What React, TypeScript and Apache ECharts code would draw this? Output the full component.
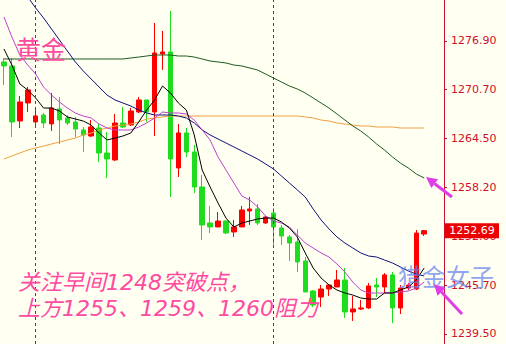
import React, { useEffect, useRef } from "react";
import * as echarts from "echarts";

// 56 category slots: 54 candles + 2 empty slots on the right
const categories: string[] = [
  "1","2","3","4","5","6","7","8","9","10","11","12","13","14","15","16","17","18","19","20",
  "21","22","23","24","25","26","27","28","29","30","31","32","33","34","35","36","37","38","39","40",
  "41","42","43","44","45","46","47","48","49","50","51","52","53","54","55","56",
];

// [open, close, low, high]
const candles: number[][] = [
  [1274.22, 1273.71, 1271.28, 1274.73],
  [1273.71, 1266.56, 1264.65, 1274.73],
  [1266.69, 1269.11, 1265.79, 1269.88],
  [1268.99, 1270.65, 1267.84, 1271.03],
  [1266.56, 1267.33, 1266.18, 1268.09],
  [1267.45, 1266.43, 1265.79, 1267.71],
  [1266.31, 1268.35, 1265.41, 1270.26],
  [1268.22, 1266.82, 1263.75, 1269.75],
  [1267.07, 1266.43, 1266.18, 1267.45],
  [1266.56, 1265.67, 1264.65, 1267.20],
  [1265.54, 1264.90, 1262.73, 1265.92],
  [1264.77, 1265.92, 1264.65, 1266.82],
  [1265.79, 1262.60, 1261.45, 1266.43],
  [1262.60, 1261.84, 1259.41, 1265.28],
  [1261.71, 1266.43, 1261.58, 1267.58],
  [1266.43, 1265.92, 1265.79, 1268.47],
  [1266.18, 1267.96, 1266.05, 1268.35],
  [1267.84, 1269.37, 1267.71, 1269.75],
  [1269.37, 1267.84, 1266.56, 1269.37],
  [1267.84, 1275.37, 1264.77, 1279.20],
  [1275.24, 1275.50, 1273.20, 1278.18],
  [1275.50, 1261.84, 1256.99, 1280.73],
  [1260.69, 1265.16, 1259.54, 1266.31],
  [1265.16, 1262.73, 1262.09, 1265.79],
  [1262.73, 1258.26, 1257.50, 1263.62],
  [1258.26, 1253.41, 1251.50, 1259.79],
  [1253.67, 1253.16, 1252.39, 1255.84],
  [1253.16, 1253.92, 1253.16, 1255.07],
  [1253.92, 1252.39, 1252.26, 1254.05],
  [1252.52, 1253.16, 1251.88, 1254.05],
  [1253.16, 1255.33, 1253.16, 1255.84],
  [1255.20, 1255.46, 1253.41, 1256.99],
  [1255.46, 1253.67, 1253.41, 1256.09],
  [1253.67, 1254.43, 1253.54, 1254.56],
  [1254.94, 1253.16, 1250.86, 1255.58],
  [1253.03, 1252.01, 1250.86, 1253.41],
  [1251.88, 1251.11, 1248.82, 1252.14],
  [1251.24, 1248.69, 1247.41, 1252.90],
  [1248.82, 1244.86, 1244.86, 1249.33],
  [1244.99, 1243.20, 1242.94, 1245.11],
  [1244.22, 1245.24, 1242.94, 1245.75],
  [1245.24, 1245.75, 1244.35, 1245.75],
  [1245.50, 1246.39, 1245.50, 1247.67],
  [1246.39, 1242.31, 1241.54, 1247.92],
  [1242.31, 1242.69, 1241.16, 1244.35],
  [1242.69, 1242.82, 1242.56, 1243.84],
  [1242.82, 1245.63, 1242.69, 1246.01],
  [1245.75, 1245.50, 1244.22, 1246.65],
  [1245.50, 1247.03, 1244.73, 1247.28],
  [1247.03, 1242.82, 1240.90, 1247.41],
  [1242.82, 1245.37, 1242.05, 1245.75],
  [1245.37, 1245.75, 1245.11, 1246.01],
  [1245.24, 1252.39, 1245.11, 1252.77],
  [1252.26, 1252.69, 1252.01, 1252.77],
];

// moving averages
const maBlack: number[] = [
  1275.88, 1273.83, 1271.41, 1270.64, 1269.62, 1268.34, 1268.34, 1267.96, 1267.20, 1266.94,
  1266.68, 1266.17, 1265.15, 1264.26, 1264.51, 1264.77, 1265.15, 1266.56, 1268.09, 1269.37,
  1271.15, 1270.26, 1268.98, 1268.09, 1264.90, 1260.43, 1258.26, 1256.22, 1254.30, 1253.15,
  1253.66, 1253.92, 1254.18, 1254.30, 1254.30, 1253.79, 1253.03, 1251.88, 1249.84, 1247.92,
  1246.64, 1245.75, 1245.11, 1244.73, 1244.47, 1244.09, 1243.96, 1243.96, 1244.73, 1244.73,
  1245.11, 1245.49, 1246.39, 1247.92,
];
const maMagenta: number[] = [
  1279.96, 1277.41, 1275.11, 1273.83, 1272.68, 1271.02, 1270.00, 1269.11, 1268.34, 1267.71,
  1267.32, 1267.07, 1266.30, 1265.79, 1265.54, 1265.54, 1265.54, 1265.92, 1266.43, 1267.07,
  1267.83, 1267.71, 1267.71, 1267.58, 1266.81, 1265.54, 1264.26, 1262.09, 1260.43, 1258.77,
  1257.11, 1256.60, 1255.71, 1254.56, 1253.92, 1253.66, 1253.15, 1252.13, 1251.11, 1250.47,
  1249.84, 1249.32, 1248.43, 1247.41, 1246.13, 1245.11, 1244.73, 1244.73, 1244.73, 1244.73,
  1244.86, 1244.98, 1245.37, 1246.13,
];
const maNavy: number[] = [
  1286.47, 1285.07, 1283.79, 1282.51, 1281.11, 1279.83, 1278.43, 1277.02, 1275.62, 1274.22,
  1273.07, 1272.05, 1271.02, 1270.00, 1269.37, 1268.98, 1268.60, 1268.09, 1267.71, 1267.45,
  1267.45, 1267.45, 1267.32, 1267.07, 1266.43, 1265.54, 1264.90, 1264.39, 1263.88, 1263.37,
  1262.86, 1262.34, 1261.83, 1261.20, 1260.56, 1259.66, 1258.77, 1257.88, 1256.98, 1255.45,
  1254.05, 1252.90, 1251.88, 1251.11, 1250.47, 1249.84, 1249.45, 1249.32, 1248.94, 1248.56,
  1248.05, 1247.54, 1247.15, 1246.90,
];
const maGreen: number[] = [
  1274.60, 1274.60, 1274.60, 1274.60, 1274.60, 1274.60, 1274.60, 1274.60, 1274.60, 1274.60,
  1274.60, 1274.60, 1274.60, 1274.60, 1274.60, 1274.60, 1274.73, 1274.85, 1274.98, 1275.11,
  1275.11, 1275.11, 1274.98, 1274.98, 1274.85, 1274.60, 1274.34, 1274.22, 1274.09, 1273.83,
  1273.71, 1273.45, 1273.19, 1272.68, 1272.17, 1271.66, 1271.15, 1270.77, 1270.26, 1269.62,
  1268.98, 1268.34, 1267.58, 1266.81, 1266.05, 1265.41, 1264.64, 1263.75, 1262.98, 1262.09,
  1261.32, 1260.69, 1259.92, 1259.41,
];
const maOrange: number[] = [
  1261.83, 1262.22, 1262.60, 1262.98, 1263.24, 1263.49, 1263.75, 1264.00, 1264.26, 1264.51,
  1264.90, 1265.15, 1265.54, 1265.79, 1266.05, 1266.17, 1266.30, 1266.56, 1266.94, 1267.07,
  1267.20, 1267.32, 1267.32, 1267.32, 1267.32, 1267.32, 1267.32, 1267.32, 1267.32, 1267.32,
  1267.32, 1267.32, 1267.32, 1267.32, 1267.32, 1267.32, 1267.32, 1267.32, 1267.20, 1267.07,
  1266.81, 1266.68, 1266.43, 1266.30, 1266.17, 1266.05, 1266.05, 1265.92, 1265.92, 1265.92,
  1265.79, 1265.79, 1265.79, 1265.79,
];

const yTicks: number[] = [1239.5, 1245.7, 1252.0, 1258.2, 1264.5, 1270.7, 1276.9];
const lastPrice = 1252.69;
const dashedAt: string[] = ["5", "35"];

const titleText = "黄金";
const noteLines: string[] = ["关注早间1248突破点，", "上方1255、1259、1260阻力"];
const watermark = "猎金女子";

const PINK = "#ff4aa2";
const ARROW = "#e03ce8";
const W = 506;
const GRID_RIGHT = 62;

export default function App() {
  const ref = useRef<HTMLDivElement>(null);

  useEffect(() => {
    if (!ref.current) return;
    const chart = echarts.init(ref.current, undefined, { renderer: "svg" });

    const line = (data: number[], color: string) => ({
      type: "line",
      data,
      showSymbol: false,
      symbol: "none",
      silent: true,
      clip: true,
      z: 3,
      lineStyle: { color, width: 1 },
    });

    const arrow = (tip: number[], tail: number[]) => {
      const dx = tip[0] - tail[0];
      const dy = tip[1] - tail[1];
      const len = Math.sqrt(dx * dx + dy * dy);
      const ux = dx / len;
      const uy = dy / len;
      const hl = 11;
      const hw = 5.5;
      const bx = tip[0] - ux * hl;
      const by = tip[1] - uy * hl;
      return [
        {
          type: "line",
          z: 100,
          shape: { x1: tail[0], y1: tail[1], x2: bx, y2: by },
          style: { stroke: ARROW, lineWidth: 3 },
        },
        {
          type: "polygon",
          z: 100,
          shape: {
            points: [
              [tip[0], tip[1]],
              [bx - uy * hw, by + ux * hw],
              [bx + uy * hw, by - ux * hw],
            ],
          },
          style: { fill: ARROW },
        },
      ];
    };

    const option: any = {
      animation: false,
      backgroundColor: "#fffff2",
      grid: { left: -2, right: GRID_RIGHT, top: 0, bottom: 0, containLabel: false },
      xAxis: {
        type: "category",
        data: categories,
        boundaryGap: true,
        show: false,
      },
      yAxis: {
        type: "value",
        position: "right",
        min: 1238.22,
        max: 1282.13,
        splitLine: { show: false },
        axisLine: { show: true, lineStyle: { color: "#c8102e", width: 1 } },
        axisTick: {
          show: true,
          length: 3,
          customValues: yTicks,
          lineStyle: { color: "#c8102e" },
        },
        axisLabel: {
          customValues: yTicks,
          color: "#d0102a",
          fontFamily: "DejaVu Sans",
          fontSize: 11,
          margin: 7,
          formatter: (v: number) => v.toFixed(2),
        },
      },
      series: [
        {
          type: "candlestick",
          data: candles,
          barWidth: 5,
          z: 2,
          itemStyle: {
            color: "#ff0000",
            color0: "#1edc1e",
            borderColor: "#ff0000",
            borderColor0: "#1edc1e",
            borderWidth: 1,
          },
          markLine: {
            silent: true,
            symbol: "none",
            animation: false,
            data: dashedAt.map((c) => ({
              xAxis: c,
              lineStyle: { color: "#b8102a", width: 1, type: [3, 3] },
              label: { show: false },
            })),
          },
        },
        line(maOrange, "#f0a040"),
        line(maGreen, "#1e5a1e"),
        line(maNavy, "#10107a"),
        line(maMagenta, "#c040d0"),
        line(maBlack, "#000000"),
      ],
    };

    chart.setOption(option);

    const yLast = chart.convertToPixel({ yAxisIndex: 0 }, lastPrice) as number;
    const axisX = W - GRID_RIGHT;

    chart.setOption({
      graphic: [
        {
          type: "text",
          x: 16,
          y: 48,
          z: 50,
          style: {
            text: titleText,
            fill: PINK,
            font: "25px 'Noto Sans CJK SC'",
            verticalAlign: "middle",
            align: "left",
          },
        },
        ...noteLines.map((t, i) => ({
          type: "text",
          x: 18,
          y: 282 + i * 26,
          z: 50,
          style: {
            text: t,
            fill: PINK,
            font: "italic 22px 'DejaVu Sans', 'Noto Sans CJK SC'",
            verticalAlign: "middle",
            align: "left",
          },
        })),
        {
          type: "rect",
          z: 90,
          shape: { x: axisX + 1, y: yLast - 7.5, width: 54, height: 15 },
          style: { fill: "#ee0000" },
        },
        {
          type: "text",
          z: 91,
          x: axisX + 28,
          y: yLast,
          style: {
            text: lastPrice.toFixed(2),
            fill: "#ffffff",
            font: "11px 'DejaVu Sans'",
            align: "center",
            verticalAlign: "middle",
          },
        },
        {
          type: "text",
          x: 398,
          y: 275,
          z: 100,
          style: {
            text: watermark,
            fill: "rgba(100,130,240,0.72)",
            font: "24px 'Noto Sans CJK SC'",
            verticalAlign: "middle",
            align: "left",
          },
        },
        ...arrow([426, 177], [452, 197]),
        ...arrow([434, 284], [462, 314]),
      ],
    });

    return () => chart.dispose();
  }, []);

  return (
    <div
      ref={ref}
      style={{ position: "fixed", left: 0, top: 0, width: 506, height: 344 }}
    />
  );
}
